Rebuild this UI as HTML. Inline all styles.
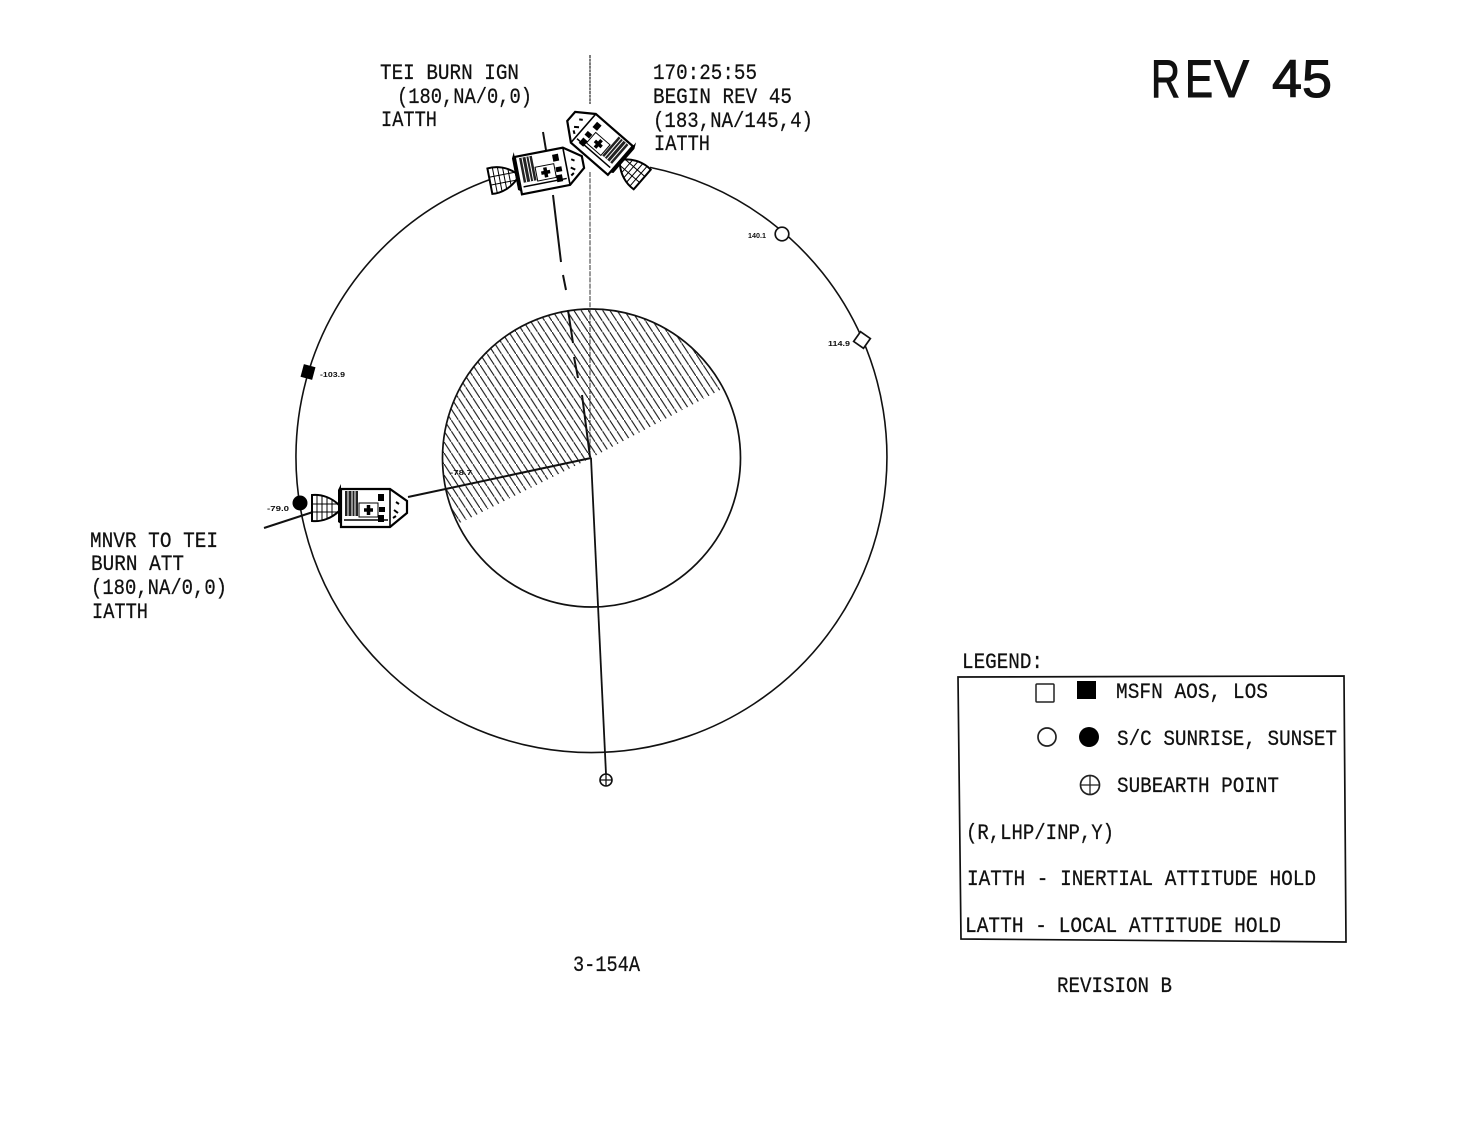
<!DOCTYPE html>
<html>
<head>
<meta charset="utf-8">
<style>
html,body{margin:0;padding:0;background:#fff;width:1461px;height:1134px;overflow:hidden}
svg{display:block}
.t{font-family:"Liberation Mono",monospace;font-size:22px;fill:#111;stroke:#111;stroke-width:.25}
.s{font-family:"Liberation Sans",sans-serif;font-size:7px;font-weight:bold;fill:#111}
.r{font-family:"Liberation Sans",sans-serif;font-size:53px;fill:#111;stroke:#111;stroke-width:1.1}
</style>
</head>
<body>
<svg width="1461" height="1134" viewBox="0 0 1461 1134" xmlns="http://www.w3.org/2000/svg">
<defs>
<pattern id="h" width="7.2" height="11" patternUnits="userSpaceOnUse" patternTransform="translate(444 310)">
<line x1="-1.2" y1="-1.833" x2="8.4" y2="12.833" stroke="#1a1a1a" stroke-width="1.150"/>
</pattern>
<clipPath id="c"><polygon points="591,458 722,389 760,300 590,290 420,300 420,535 462,522"/></clipPath>
<g id="csm">
<path d="M-48,-13 C-38,-14 -28,-10 -21,-3 L-21,3 C-28,10 -38,14 -48,13 Z" fill="#fff" stroke="#000" stroke-width="2"/>
<path d="M-43,-13V13M-38,-13V13M-33,-11V11M-28,-8V8M-48,-4H-21M-48,4H-21" stroke="#000" stroke-width="1" fill="none"/>
<path d="M-22,-18 L-19,-24 L-19,16 L-22,14 Z" fill="#000"/>
<path d="M-19,-19 H30 L47,-7 V5 L30,19 H-19 Z" fill="#fff" stroke="#000" stroke-width="2.200"/>
<path d="M30,-19 V19" stroke="#000" stroke-width="1.600"/>
<rect x="-15" y="-17" width="13" height="25" fill="#222"/>
<path d="M-12,-17V8M-8,-17V8M-5,-17V8" stroke="#fff" stroke-width="1"/>
<path d="M-16,12 H28" stroke="#000" stroke-width="1.500"/>
<rect x="-1" y="-5" width="19" height="14" fill="#fff" stroke="#000" stroke-width="1"/>
<path d="M4,2 h9 M8.500,-3 v10" stroke="#000" stroke-width="3.500"/>
<rect x="18" y="-14" width="6" height="7" fill="#000"/>
<rect x="19" y="-1" width="6" height="5" fill="#000"/>
<rect x="18" y="7" width="6" height="7" fill="#000"/>
<path d="M34,2 l4,3 M36,-6 l3,2 M33,10 l3,-2" stroke="#000" stroke-width="2"/>
</g>
</defs>

<!-- moon -->
<circle cx="591" cy="458" r="149" fill="url(#h)" clip-path="url(#c)"/>
<circle cx="591.500" cy="458" r="149" fill="none" stroke="#111" stroke-width="1.700"/>

<!-- orbit -->
<path d="M650,167.400 A295.500,295.500 0 1 1 490,179.500" fill="none" stroke="#111" stroke-width="1.600"/>

<!-- lines -->
<path d="M590,55 V104" stroke="#111" stroke-width="1.100" stroke-dasharray="3 .6" fill="none"/>
<path d="M590,172 V458" stroke="#333" stroke-width="1" stroke-dasharray="5 1.200" fill="none"/>
<path d="M591,458 L606,774" stroke="#111" stroke-width="1.800" fill="none"/>
<path d="M591,458 L408,497" stroke="#111" stroke-width="2" fill="none"/>
<path d="M313,512 L264,528" stroke="#111" stroke-width="2" fill="none"/>
<path d="M543,132 L546,150 M553,195 L561,262 M563,275 L566,290 M568,310 L573,343 M574,357 L578,378 M582,395 L590,457" stroke="#111" stroke-width="2" fill="none"/>

<!-- spacecraft -->
<use href="#csm" transform="translate(360 508)"/>
<use href="#csm" transform="translate(537 172) rotate(-11)"/>
<use href="#csm" transform="translate(606 148) rotate(-139) scale(1 -1)"/>

<!-- markers -->
<circle cx="782" cy="234" r="6.800" fill="#fff" stroke="#111" stroke-width="1.700"/>
<rect x="-6" y="-6" width="12" height="12" transform="translate(862 340) rotate(35)" fill="#fff" stroke="#111" stroke-width="1.700"/>
<rect x="-6" y="-6.500" width="12" height="13" transform="translate(308 372) rotate(15)" fill="#000"/>
<circle cx="300" cy="503" r="7.500" fill="#000"/>
<circle cx="606" cy="780" r="6" fill="#fff" stroke="#111" stroke-width="1.600"/>
<path d="M600,780 H612 M606,774 V786" stroke="#111" stroke-width="1.300"/>

<!-- small labels -->
<text class="s" x="748" y="238" textLength="18" lengthAdjust="spacingAndGlyphs">140.1</text>
<text class="s" x="828" y="346" textLength="22" lengthAdjust="spacingAndGlyphs">114.9</text>
<text class="s" x="320" y="377" textLength="25" lengthAdjust="spacingAndGlyphs">-103.9</text>
<text class="s" x="267" y="511" textLength="22" lengthAdjust="spacingAndGlyphs">-79.0</text>
<text class="s" x="450" y="475" textLength="22" lengthAdjust="spacingAndGlyphs">-78.7</text>

<!-- title -->
<text class="r" x="1151" y="97" textLength="29" lengthAdjust="spacingAndGlyphs">R</text>
<text class="r" x="1185" y="97" textLength="28" lengthAdjust="spacingAndGlyphs">E</text>
<text class="r" x="1214" y="97" textLength="35" lengthAdjust="spacingAndGlyphs">V</text>
<text class="r" x="1272" y="97" textLength="30" lengthAdjust="spacingAndGlyphs">4</text>
<text class="r" x="1302" y="97" textLength="30" lengthAdjust="spacingAndGlyphs">5</text>

<!-- annotations -->
<text class="t" x="380" y="79" textLength="139" lengthAdjust="spacingAndGlyphs">TEI BURN IGN</text>
<text class="t" x="397" y="103" textLength="135" lengthAdjust="spacingAndGlyphs">(180,NA/0,0)</text>
<text class="t" x="381" y="126" textLength="56" lengthAdjust="spacingAndGlyphs">IATTH</text>
<text class="t" x="653" y="79" textLength="104" lengthAdjust="spacingAndGlyphs">170:25:55</text>
<text class="t" x="653" y="103" textLength="139" lengthAdjust="spacingAndGlyphs">BEGIN REV 45</text>
<text class="t" x="653" y="127" textLength="160" lengthAdjust="spacingAndGlyphs">(183,NA/145,4)</text>
<text class="t" x="654" y="150" textLength="56" lengthAdjust="spacingAndGlyphs">IATTH</text>
<text class="t" x="90" y="547" textLength="128" lengthAdjust="spacingAndGlyphs">MNVR TO TEI</text>
<text class="t" x="91" y="570" textLength="93" lengthAdjust="spacingAndGlyphs">BURN ATT</text>
<text class="t" x="91" y="594" textLength="136" lengthAdjust="spacingAndGlyphs">(180,NA/0,0)</text>
<text class="t" x="92" y="618" textLength="56" lengthAdjust="spacingAndGlyphs">IATTH</text>
<text class="t" x="573" y="971" textLength="67" lengthAdjust="spacingAndGlyphs">3-154A</text>
<text class="t" x="1057" y="992" textLength="115" lengthAdjust="spacingAndGlyphs">REVISION B</text>

<!-- legend -->
<text class="t" x="962" y="668" textLength="81" lengthAdjust="spacingAndGlyphs">LEGEND:</text>
<polygon points="958,677 1344,676 1346,942 961,939" fill="none" stroke="#111" stroke-width="1.700"/>
<rect x="1036" y="684" width="18" height="18" rx="1" fill="#fff" stroke="#222" stroke-width="1.500"/>
<rect x="1077" y="681" width="19" height="18" fill="#000"/>
<circle cx="1047" cy="737" r="9" fill="#fff" stroke="#222" stroke-width="1.700"/>
<circle cx="1089" cy="737" r="10" fill="#000"/>
<circle cx="1090" cy="785" r="9.500" fill="#fff" stroke="#222" stroke-width="1.700"/>
<path d="M1080,785 H1100 M1090,775 V795" stroke="#222" stroke-width="1.300"/>
<text class="t" x="1116" y="698" textLength="152" lengthAdjust="spacingAndGlyphs">MSFN AOS, LOS</text>
<text class="t" x="1117" y="745" textLength="220" lengthAdjust="spacingAndGlyphs">S/C SUNRISE, SUNSET</text>
<text class="t" x="1117" y="792" textLength="162" lengthAdjust="spacingAndGlyphs">SUBEARTH POINT</text>
<text class="t" x="966" y="839" textLength="148" lengthAdjust="spacingAndGlyphs">(R,LHP/INP,Y)</text>
<text class="t" x="967" y="885" textLength="349" lengthAdjust="spacingAndGlyphs">IATTH - INERTIAL ATTITUDE HOLD</text>
<text class="t" x="965" y="932" textLength="316" lengthAdjust="spacingAndGlyphs">LATTH - LOCAL ATTITUDE HOLD</text>
</svg>
</body>
</html>
